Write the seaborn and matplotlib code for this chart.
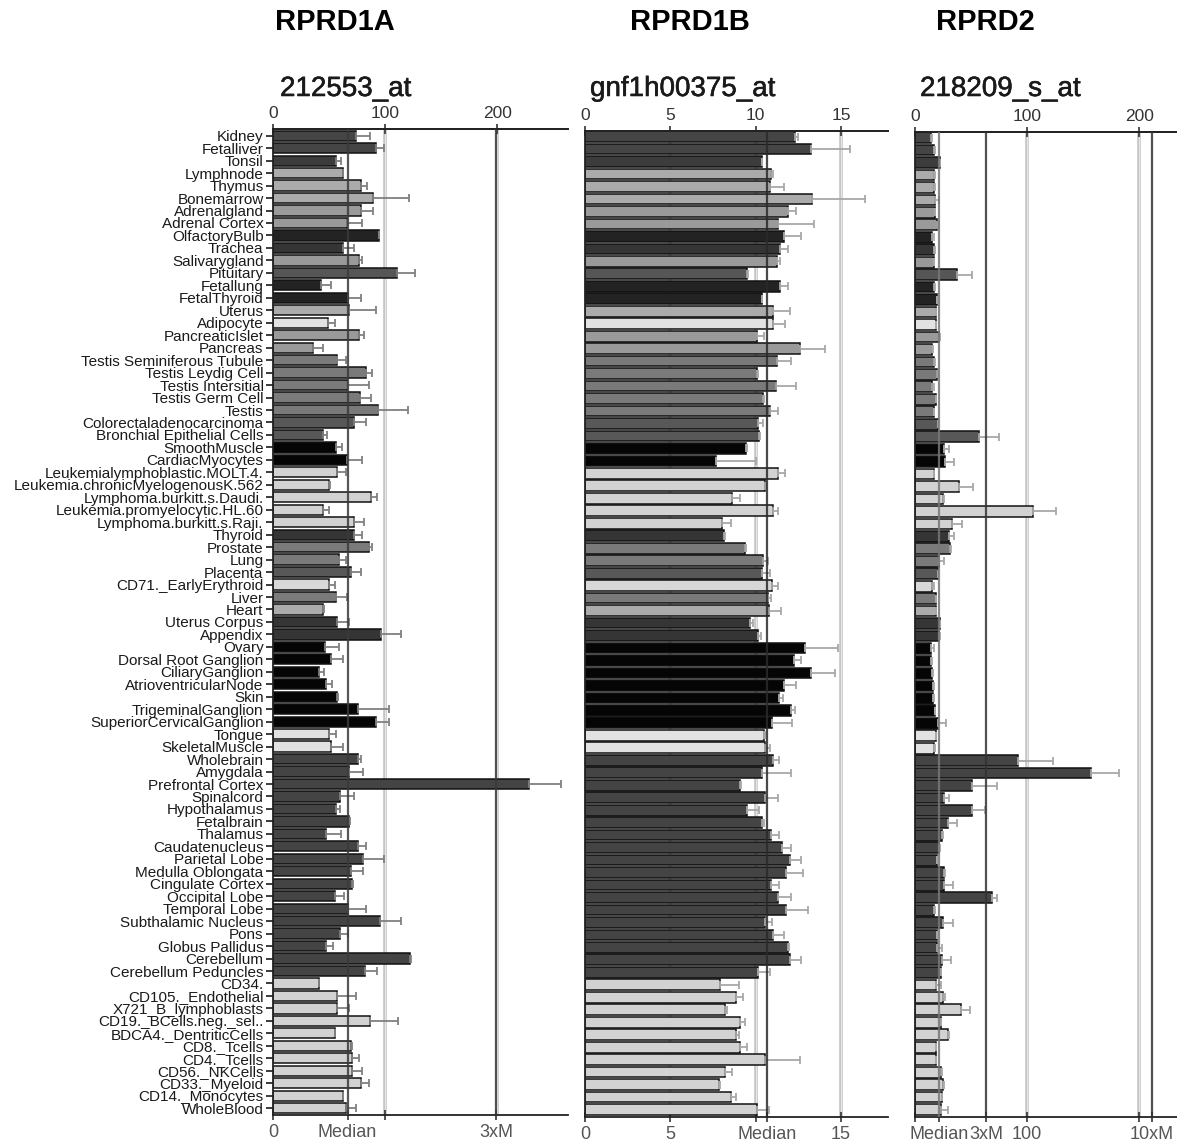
import matplotlib
matplotlib.use("Agg")
import matplotlib.pyplot as plt
import matplotlib.patheffects as pe
import seaborn as sns
import numpy as np

# ---------------- data ----------------
tissues = [
    "Kidney", "Fetalliver", "Tonsil", "Lymphnode", "Thymus", "Bonemarrow",
    "Adrenalgland", "Adrenal Cortex", "OlfactoryBulb", "Trachea", "Salivarygland",
    "Pituitary", "Fetallung", "FetalThyroid", "Uterus", "Adipocyte",
    "PancreaticIslet", "Pancreas", "Testis Seminiferous Tubule", "Testis Leydig Cell",
    "Testis Intersitial", "Testis Germ Cell", "Testis", "Colorectaladenocarcinoma",
    "Bronchial Epithelial Cells", "SmoothMuscle", "CardiacMyocytes",
    "Leukemialymphoblastic.MOLT.4.", "Leukemia.chronicMyelogenousK.562",
    "Lymphoma.burkitt.s.Daudi.", "Leukemia.promyelocytic.HL.60",
    "Lymphoma.burkitt.s.Raji.", "Thyroid", "Prostate", "Lung", "Placenta",
    "CD71._EarlyErythroid", "Liver", "Heart", "Uterus Corpus", "Appendix", "Ovary",
    "Dorsal Root Ganglion", "CiliaryGanglion", "AtrioventricularNode", "Skin",
    "TrigeminalGanglion", "SuperiorCervicalGanglion", "Tongue", "SkeletalMuscle",
    "Wholebrain", "Amygdala", "Prefrontal Cortex", "Spinalcord", "Hypothalamus",
    "Fetalbrain", "Thalamus", "Caudatenucleus", "Parietal Lobe", "Medulla Oblongata",
    "Cingulate Cortex", "Occipital Lobe", "Temporal Lobe", "Subthalamic Nucleus",
    "Pons", "Globus Pallidus", "Cerebellum", "Cerebellum Peduncles", "CD34.",
    "CD105._Endothelial", "X721_B_lymphoblasts", "CD19._BCells.neg._sel..",
    "BDCA4._DentriticCells", "CD8._Tcells", "CD4._Tcells", "CD56._NKCells",
    "CD33._Myeloid", "CD14._Monocytes", "WholeBlood",
]

tissue_colors = [
    "#454545", "#454545", "#3c3c3c", "#ababab", "#ababab", "#ababab",
    "#9a9a9a", "#9a9a9a", "#232323", "#353535", "#9a9a9a",
    "#565656", "#232323", "#232323", "#ababab", "#e2e2e2",
    "#9a9a9a", "#9a9a9a", "#7a7a7a", "#7a7a7a",
    "#7a7a7a", "#7a7a7a", "#7a7a7a", "#585858",
    "#585858", "#050505", "#050505",
    "#d2d2d2", "#d2d2d2",
    "#d2d2d2", "#d2d2d2",
    "#d2d2d2", "#353535", "#7a7a7a", "#7a7a7a", "#585858",
    "#d8d8d8", "#7a7a7a", "#ababab", "#353535", "#353535", "#050505",
    "#050505", "#050505", "#050505", "#050505",
    "#050505", "#050505", "#e2e2e2", "#e2e2e2",
    "#444444", "#444444", "#444444", "#444444", "#444444",
    "#444444", "#444444", "#444444", "#444444", "#444444",
    "#444444", "#444444", "#444444", "#444444",
    "#444444", "#444444", "#444444", "#444444", "#d2d2d2",
    "#d2d2d2", "#d2d2d2", "#d2d2d2",
    "#d2d2d2", "#d2d2d2", "#d2d2d2", "#d2d2d2",
    "#d2d2d2", "#d2d2d2", "#d2d2d2",
]

genes = ["RPRD1A", "RPRD1B", "RPRD2"]
probes = ["212553_at", "gnf1h00375_at", "218209_s_at"]

rprd1a_values = [
    73.7, 92, 56, 62, 78, 89, 78, 65.5, 94, 62, 76.6, 110, 42.8, 66.4, 67.8, 48.4,
    76.6, 35.2, 57.2, 83, 65.8, 77, 93.4, 72.4, 44, 55.6, 66, 57.2, 50, 87.2, 44,
    72.4, 72.4, 85.5, 58.9, 69, 49.7, 55.6, 44, 57.2, 96, 46, 51.6, 41, 46.7, 56.6,
    75.6, 92, 49.7, 51.3, 75.6, 68, 228, 59.2, 56, 68, 46.7, 75.6, 80, 69.7, 70.4,
    55, 66.4, 95, 59.9, 46.7, 122.4, 81.6, 40.8, 57.2, 57.2, 86, 55, 69.7, 70.7,
    70.7, 78, 62, 65.1,
]
rprd1a_errors = [
    12.3, 7, 4.5, 0.5, 5.5, 32, 11, 14, 0.8, 10, 3, 16.6, 8.8, 12, 24, 6.6,
    4.4, 9.2, 7.6, 4.8, 19.7, 10.2, 26.6, 10.6, 3.7, 5.9, 13.6, 7.6, 1, 5.6, 6,
    8.8, 7.2, 2.5, 5.9, 9, 5.3, 9.9, 1.7, 10.8, 18, 12.9, 10.2, 4.7, 5.9, 1,
    27.4, 11, 5.9, 10.5, 2.7, 12, 29, 13.2, 3.9, 0.5, 13.8, 7.4, 19, 10.3, 0.8,
    8, 16.6, 19, 7.1, 6.6, 0.8, 11.2, 0.3, 16.8, 10.8, 25, 0.5, 0.8, 5.6,
    8.9, 7.5, 0.5, 8.9,
]
rprd1a_median = 66.3

rprd1b_values = [
    12.28, 13.22, 10.34, 10.9, 10.85, 13.3, 11.88, 11.29, 11.68, 11.4, 11.23,
    9.47, 11.43, 10.34, 10.99, 10.99, 10.1, 12.57, 11.23, 10.1, 11.21, 10.44,
    10.83, 10.14, 10.2, 9.41, 7.68, 11.29, 10.54, 8.62, 10.99, 8.03, 8.17, 9.35,
    10.44, 10.34, 10.93, 10.7, 10.8, 9.67, 10.14, 12.87, 12.24, 13.26, 11.64,
    11.35, 12.04, 10.95, 10.5, 10.54, 10.99, 10.36, 9.08, 10.56, 9.51, 10.34,
    10.9, 11.53, 12.02, 11.78, 10.9, 11.33, 11.78, 10.56, 10.99, 11.88, 12.02,
    10.16, 7.93, 8.82, 8.23, 9.06, 8.86, 9.06, 10.56, 8.23, 7.83, 8.57, 10.1,
]
rprd1b_errors = [
    0.2, 2.3, 0.05, 0.1, 0.8, 3.1, 0.5, 2.1, 1.0, 0.48, 0.17,
    0.1, 0.45, 0.05, 1.0, 0.75, 0.36, 1.48, 0.85, 0.05, 1.16, 0.06,
    0.5, 0.26, 0.05, 0.1, 2.35, 0.4, 0.05, 0.45, 0.34, 0.54, 0.05, 0.06,
    0.3, 0.49, 0.4, 0.2, 0.7, 0.2, 0.16, 1.97, 0.43, 1.38, 0.73,
    0.23, 0.27, 1.17, 0.05, 0.31, 0.4, 1.68, 0.05, 0.73, 0.69, 0.12,
    0.49, 0.51, 0.65, 0.99, 0.49, 0.75, 1.29, 0.39, 0.69, 0.05, 0.65,
    0.69, 1.09, 0.46, 0.1, 0.29, 0.16, 0.45, 2.01, 0.39, 0.1, 0.25, 0.7,
]
rprd1b_median = 10.66

rprd2_values = [
    14.1, 17.1, 22.2, 17.1, 17.1, 18, 17.7, 19.5, 15.6, 17.1, 16.5, 37.5, 17.1,
    19.5, 18.6, 18.6, 21.6, 15, 17.1, 19.5, 15, 18.6, 16.5, 20.1, 57, 26.1, 27,
    16.5, 39.6, 25.2, 105.5, 33, 30.6, 31.5, 21.6, 20.1, 15, 18.6, 18.6, 22.2,
    21.6, 14.7, 14.7, 15.6, 16.2, 16.2, 17.7, 20.1, 18.6, 17.1, 92, 156.5, 50.7,
    26.1, 50.7, 29.7, 23.7, 21, 19.2, 26.1, 26.1, 69, 17.1, 24.6, 19.2, 19.5, 24,
    23.1, 18.6, 24.6, 41, 23.1, 29, 18.6, 18.6, 23.1, 25.2, 24, 23.1,
]
rprd2_errors = [
    1.5, 0.6, 0.2, 0.6, 0.6, 3.6, 0.3, 1.5, 1, 0.3, 0.3, 13.5, 0.3,
    0.3, 0.3, 0.3, 0.6, 1.2, 0.3, 0.9, 1.5, 0.3, 0.3, 0.3, 18, 3.9, 8,
    0.6, 12, 1, 20.5, 9, 3.9, 0.3, 3.9, 0.3, 2, 0.3, 0.3, 0.3,
    0.3, 2.4, 0.9, 0.3, 0.3, 0.3, 0.3, 7.5, 0.3, 0.3, 31, 25.5, 22.3,
    4.5, 12, 7.8, 1.5, 1.2, 0.3, 0.3, 7.5, 4, 0.3, 9, 0.3, 4.2, 8,
    0.3, 4.5, 2.4, 7.6, 0.3, 0.9, 0.3, 0.3, 0.9, 0.3, 0.3, 5.9,
]
rprd2_median = 21.1

# ---------------- style ----------------
sns.set_style("white")
plt.rcParams["font.family"] = ["Liberation Sans", "DejaVu Sans"]

W, H = 1177, 1145
fig = plt.figure(figsize=(W / 100, H / 100), dpi=100)
palette = dict(zip(tissues, tissue_colors))
pos = np.arange(len(tissues))


def frac_rect(x0, x1, ytop, ybot):
    return [x0 / W, 1 - ybot / H, (x1 - x0) / W, (ybot - ytop) / H]


def draw_panel(rect, values, errors, xmax, grid, top_ticks,
               bottom_ticks, bottom_labels, guides, ylim, show_labels,
               bar_width, ecolor):
    ax = fig.add_axes(rect)
    for g in grid:
        ax.axvline(g, color="#c4c4c4", lw=2.6, zorder=0)
        ax.axvline(g, color="#e6e6e6", lw=0.8, zorder=0)
    sns.barplot(x=values, y=tissues, hue=tissues, palette=palette, legend=False,
                orient="h", ax=ax, edgecolor="#111111", linewidth=1.1,
                width=bar_width, saturation=1, zorder=2)
    ax.errorbar(values, pos, xerr=[np.zeros(len(values)), errors], fmt="none",
                ecolor=ecolor, elinewidth=1.3, capsize=3, capthick=1.3, zorder=3)
    for gx, gc in guides:
        ax.axvline(gx, color=gc, lw=1.6, zorder=5, alpha=0.85)
    ax.set_xlim(0, xmax)
    ax.set_ylim(*ylim)
    ax.set_xlabel("")
    ax.set_ylabel("")
    for side in ["top", "bottom", "left"]:
        ax.spines[side].set_visible(True)
        ax.spines[side].set_color("#222222")
        ax.spines[side].set_linewidth(1.3)
    ax.spines["right"].set_visible(False)
    ax.set_xticks(bottom_ticks)
    ax.set_xticklabels(bottom_labels)
    ax.tick_params(axis="x", bottom=True, direction="inout", length=7,
                   width=1.2, colors="#333333", labelsize=13, labelcolor="#555555",
                   pad=3)
    if show_labels:
        ax.set_yticks(pos)
        ax.set_yticklabels(tissues)
        ax.tick_params(axis="y", left=True, length=5, width=1.2,
                       colors="#1a1a1a", labelsize=11, pad=2)
    else:
        ax.set_yticks([])
    sec = ax.secondary_xaxis("top")
    sec.set_xticks(top_ticks)
    sec.set_xticklabels([str(t) for t in top_ticks])
    sec.tick_params(direction="inout", length=7, width=1.2, colors="#333333",
                    labelsize=12.5, labelcolor="#333333", pad=2)
    sec.spines["top"].set_color("#222222")
    sec.spines["top"].set_linewidth(1.3)
    return ax


# Panel 1
draw_panel(frac_rect(273.3, 568, 129, 1115), rprd1a_values, rprd1a_errors,
           (568 - 273.3) / 1.12, [100, 200], [0, 100, 200],
           [0, rprd1a_median, 100, 3 * rprd1a_median], ["0", "Median", "", "3xM"],
           [(rprd1a_median, "#3a3a3a"), (3 * rprd1a_median, "#3a3a3a")],
           (78.55, -0.54), True, 0.82, "#808080")

# Panel 2
draw_panel(frac_rect(585, 888, 131, 1117), rprd1b_values, rprd1b_errors,
           (888 - 585) / 17.07, [5, 10, 15], [0, 5, 10, 15],
           [0, 5, 10, rprd1b_median, 15], ["0", "5", "", "Median", "15"],
           [(rprd1b_median, "#2a2a2a")],
           (78.6, -0.45), False, 0.86, "#a8a8a8")

# Panel 3
draw_panel(frac_rect(915, 1177, 132, 1117), rprd2_values, rprd2_errors,
           (1177 - 915) / 1.1215, [100, 200], [0, 100, 200],
           [0, rprd2_median, 3 * rprd2_median, 100, 200, 10 * rprd2_median],
           ["", "Median", "3xM", "100", "", "10xM"],
           [(rprd2_median, "#777777"), (3 * rprd2_median, "#333333"),
            (10 * rprd2_median, "#333333")],
           (78.6, -0.45), False, 0.86, "#a8a8a8")

# Headings and probe titles
for gx, name in zip([335, 690, 985], genes):
    fig.text(gx / W, 1 - 22 / H, name, ha="center", va="center",
             fontsize=21, fontweight="bold", color="#000000")
for tx, probe in zip([280, 590, 920], probes):
    fig.text(tx / W, 1 - 89 / H, probe, ha="left", va="center",
             fontsize=20, color="#1a1a1a",
             path_effects=[pe.withStroke(linewidth=0.4, foreground="#1a1a1a")])

fig.savefig("out.png", dpi=100)
